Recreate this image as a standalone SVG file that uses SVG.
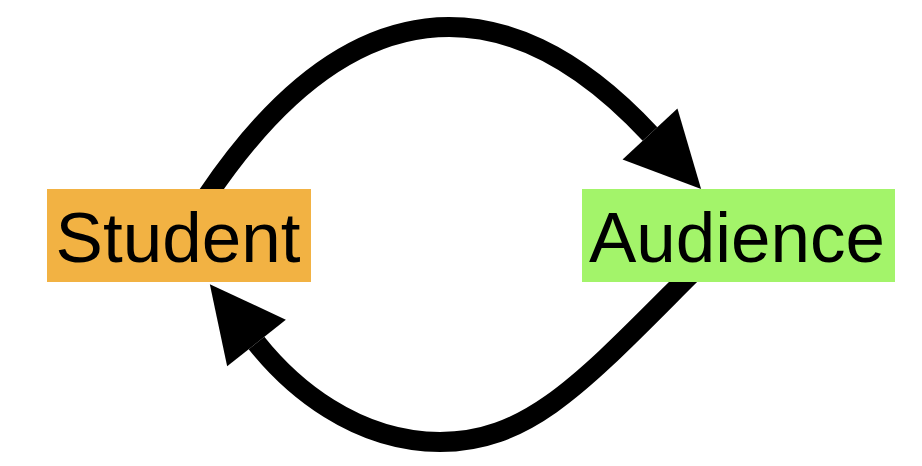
<svg xmlns="http://www.w3.org/2000/svg" width="922" height="466" viewBox="0 0 922 466">
<style>
.conn{fill:none;stroke:#000;stroke-width:20}
.lbl{font-family:"Liberation Sans",Arial,sans-serif;font-size:71px;fill:#000;text-anchor:middle}
</style>
<defs>
<marker id="head" markerUnits="userSpaceOnUse" markerWidth="80" markerHeight="80" viewBox="0 -40 80 80" refX="0" refY="0" orient="auto" overflow="visible">
<polygon points="0,-37.5 75,0 0,37.5" fill="#000"/>
</marker>
</defs>
<rect width="922" height="466" fill="#fff"/>
<g id="connectors">
<path class="conn" d="M207,196 C347,-11.5 503.8,-23 650,134" marker-end="url(#head)"/>
<path class="conn" d="M690,275 C584,381 530,442 440,442 C355,442 290.6,385.9 256.5,343" marker-end="url(#head)"/>
</g>
<g id="student">
<rect x="47" y="189" width="264" height="93" fill="#F2B243"/>
<text class="lbl" x="178" y="262">Student</text>
</g>
<g id="audience">
<rect x="582" y="189" width="313" height="93" fill="#A3F46A"/>
<text class="lbl" x="737" y="262">Audience</text>
</g>
</svg>
